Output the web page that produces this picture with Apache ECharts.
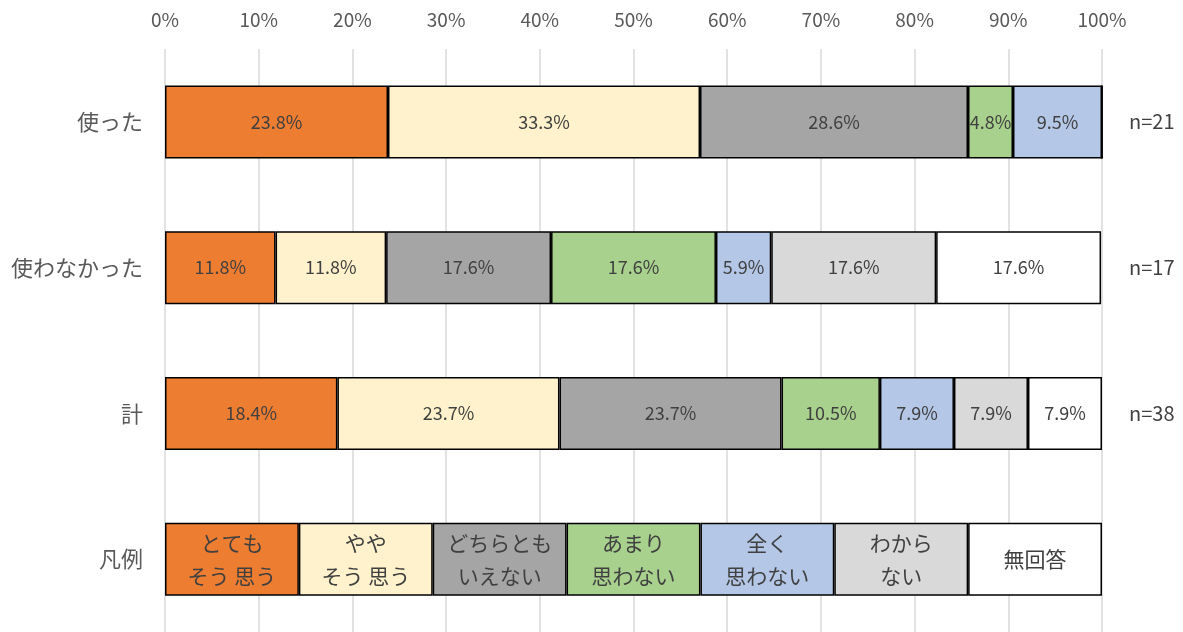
<!DOCTYPE html>
<html>
<head>
<meta charset="utf-8">
<script src="https://cdn.jsdelivr.net/npm/echarts@6/dist/echarts.min.js"></script>
<style>
  html, body { margin: 0; padding: 0; background: #fff; }
  #main { width: 1183px; height: 632px; }
</style>
</head>
<body>
<div id="main"></div>
<script>
var categories = ['使った', '使わなかった', '計', '凡例'];
var sampleSizes = ['n=21', 'n=17', 'n=38', ''];
var seriesNames = ['とても\nそう 思う', 'やや\nそう 思う', 'どちらとも\nいえない', 'あまり\n思わない', '全く\n思わない', 'わから\nない', '無回答'];
var colors = ['#ED7D31', '#FFF2CC', '#A5A5A5', '#A9D18E', '#B4C7E7', '#D9D9D9', '#FFFFFF'];

// percentages per answer, rows: 使った, 使わなかった, 計
var veryMuch = [23.8, 11.8, 18.4];
var somewhat = [33.3, 11.8, 23.7];
var neither = [28.6, 17.6, 23.7];
var notMuch = [4.8, 17.6, 10.5];
var notAtAll = [9.5, 5.9, 7.9];
var dontKnow = [0, 17.6, 7.9];
var noAnswer = [0, 17.6, 7.9];
var legendShare = 100 / 7;

var values = [veryMuch, somewhat, neither, notMuch, notAtAll, dontKnow, noAnswer];

var myChart = echarts.init(document.getElementById('main'));

var series = values.map(function (arr, i) {
    var data = arr.map(function (v) {
        return {
            value: v,
            label: { show: v > 0, formatter: v.toFixed(1) + '%' }
        };
    });
    data.push({
        value: legendShare,
        label: { show: true, formatter: seriesNames[i], fontSize: 21, lineHeight: 33 }
    });
    return {
        name: seriesNames[i],
        type: 'bar',
        stack: 'total',
        barWidth: 73,
        itemStyle: { color: colors[i], borderColor: '#000', borderWidth: 1.5 },
        label: {
            position: 'inside',
            color: '#404040',
            fontSize: 18,
            fontFamily: 'Noto Sans CJK JP'
        },
        data: data
    };
});

var option = {
    animation: false,
    textStyle: { fontFamily: 'Noto Sans CJK JP' },
    grid: { left: 165, right: 81, top: 49, height: 588 },
    xAxis: {
        type: 'value',
        position: 'top',
        min: 0,
        max: 100,
        interval: 10,
        axisLine: { show: false },
        axisTick: { show: false },
        axisLabel: { formatter: '{value}%', color: '#595959', fontSize: 19, margin: 20 },
        splitLine: { lineStyle: { color: '#D9D9D9', width: 1.5 } }
    },
    yAxis: [
        {
            type: 'category',
            inverse: true,
            data: categories,
            axisLine: { show: false },
            axisTick: { show: false },
            axisLabel: { color: '#595959', fontSize: 22, margin: 22 }
        },
        {
            type: 'category',
            inverse: true,
            position: 'right',
            data: sampleSizes,
            axisLine: { show: false },
            axisTick: { show: false },
            axisLabel: { color: '#404040', fontSize: 20, margin: 27, align: 'left' }
        }
    ],
    series: series
};

myChart.setOption(option);
</script>
</body>
</html>
